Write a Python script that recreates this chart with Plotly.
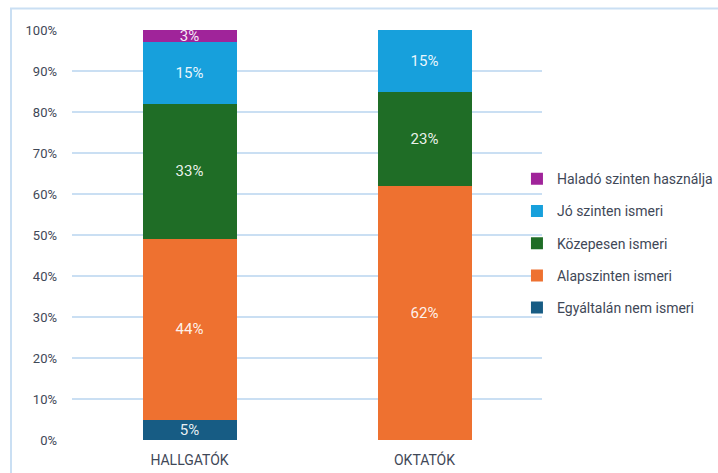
import plotly.graph_objects as go

categories = ["HALLGATÓK", "OKTATÓK"]

series_names = [
    "Egyáltalán nem ismeri",
    "Alapszinten ismeri",
    "Közepesen ismeri",
    "Jó szinten ismeri",
    "Haladó szinten használja",
]
egyaltalan = [5, 0]
alapszinten = [44, 62]
kozepesen = [33, 23]
jo_szinten = [15, 15]
halado = [3, 0]

series_values = [egyaltalan, alapszinten, kozepesen, jo_szinten, halado]
series_colors = ["#175c84", "#ee7130", "#1f6d26", "#17a0dc", "#a0249a"]

y_ticks = list(range(0, 101, 10))
y_tick_labels = [f"{t}%" for t in y_ticks]

FONT = "Roboto, 'Open Sans', sans-serif"
TEXT_COLOR = "#3f4857"
GRID = "#cadff3"

fig = go.Figure()
for i, (name, vals, col) in enumerate(zip(series_names, series_values, series_colors)):
    fig.add_trace(go.Bar(
        name=name,
        x=categories,
        y=vals,
        marker=dict(color=col, line=dict(width=0)),
        text=[f"{v}%" if v else "" for v in vals],
        textposition="inside",
        insidetextanchor="middle",
        constraintext="none",
        textfont=dict(family=FONT, size=15, color="rgba(255,255,255,0.92)"),
        legendgroup=f"g{i}",
        legendrank=100 - i,
        hoverinfo="skip",
    ))

# outer frame of the chart area
fig.add_shape(type="rect", xref="paper", yref="paper",
              x0=-0.1298, x1=1.40, y0=-0.10, y1=1.0524,
              line=dict(color=GRID, width=2), fillcolor="rgba(0,0,0,0)", layer="below")

fig.update_layout(
    width=718, height=473,
    margin=dict(l=72, r=176, t=30, b=33, autoexpand=False),
    barmode="stack",
    bargap=0.6,
    paper_bgcolor="white",
    plot_bgcolor="white",
    font=dict(family=FONT, size=13, color=TEXT_COLOR),
    showlegend=True,
    legend=dict(
        traceorder="grouped",
        tracegroupgap=11,
        xref="container", yref="container",
        x=0.72, xanchor="left",
        y=0.655, yanchor="top",
        font=dict(family=FONT, size=14, color=TEXT_COLOR),
        itemwidth=30,
        bgcolor="rgba(0,0,0,0)",
    ),
    xaxis=dict(
        showgrid=False, zeroline=False, showline=False,
        ticks="", ticklabelstandoff=10,
        tickfont=dict(size=14, color=TEXT_COLOR),
    ),
    yaxis=dict(
        range=[0, 100],
        tickvals=y_ticks, ticktext=y_tick_labels,
        showgrid=True, gridcolor=GRID, gridwidth=2,
        zeroline=False, showline=False, ticks="",
        ticklabelstandoff=14,
        tickfont=dict(size=13, color=TEXT_COLOR),
    ),
)

fig.write_html("out.html")
